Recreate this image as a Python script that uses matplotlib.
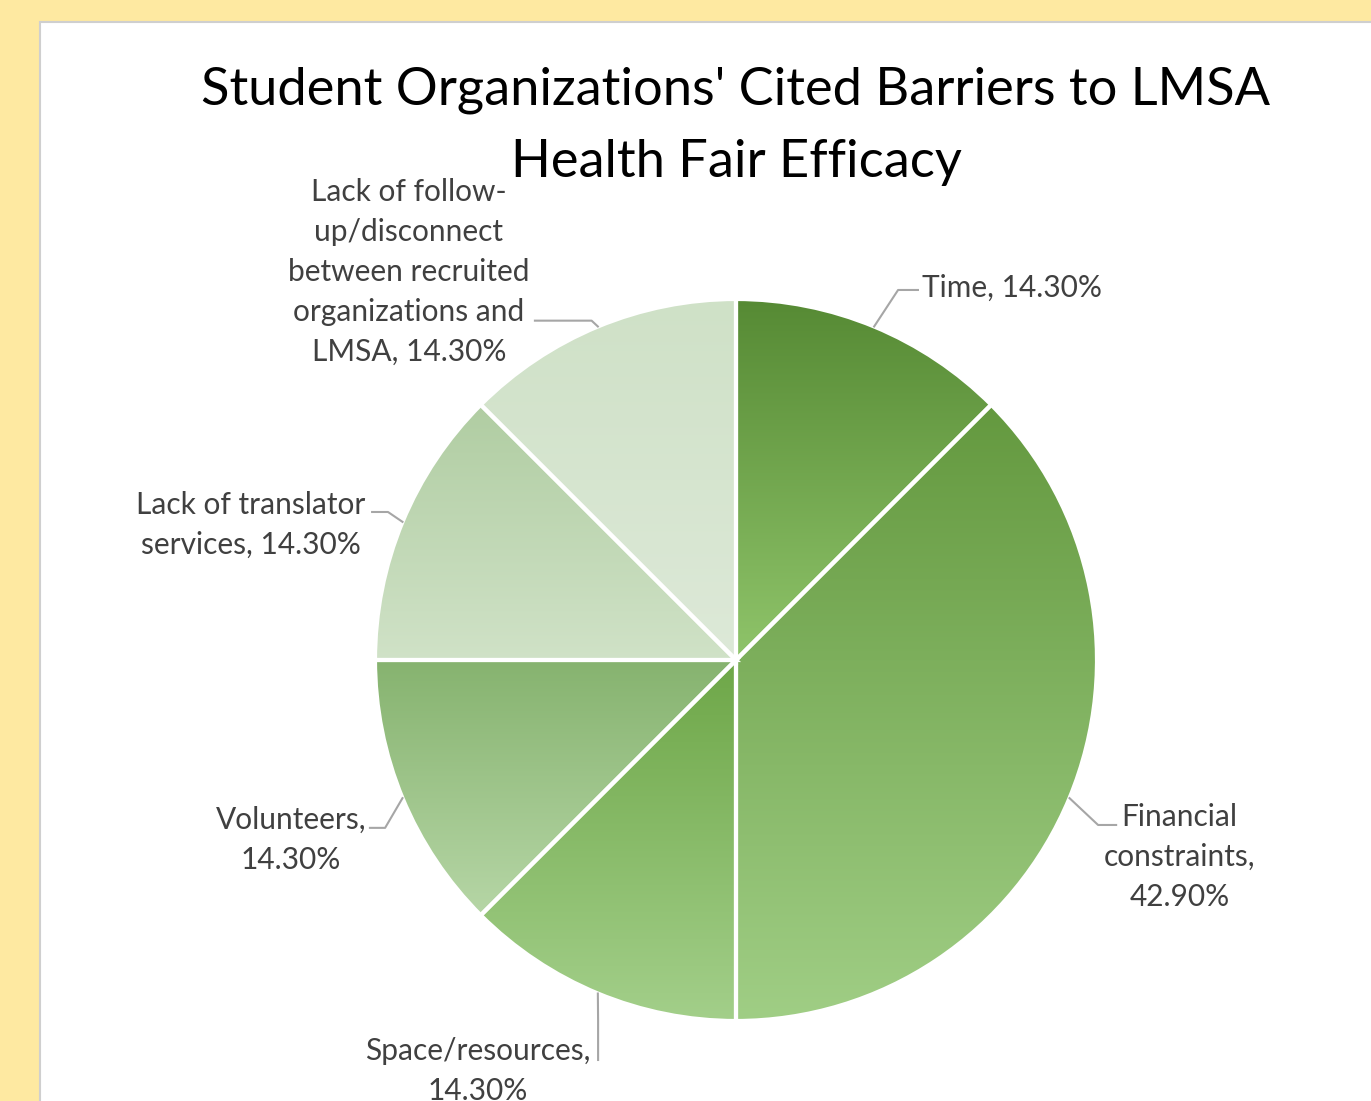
import numpy as np
import matplotlib
matplotlib.use("Agg")
import matplotlib.pyplot as plt
from matplotlib.patches import Rectangle
from matplotlib.colors import to_rgb

# ---- data ----
categories = ["Time", "Financial constraints", "Space/resources", "Volunteers",
              "Lack of translator services",
              "Lack of follow-up/disconnect between recruited organizations and LMSA"]
values = [14.30, 42.90, 14.30, 14.30, 14.30, 14.30]
label_texts = [
    "Time, 14.30%",
    "Financial\nconstraints,\n42.90%",
    "Space/resources,\n14.30%",
    "Volunteers,\n14.30%",
    "Lack of translator\nservices, 14.30%",
    "Lack of follow-\nup/disconnect\nbetween recruited\norganizations and\nLMSA, 14.30%",
]
title = "Student Organizations' Cited Barriers to LMSA\nHealth Fair Efficacy"

# ---- style ----
grad_colors = [  # (top, bottom)
    ("#568a34", "#8fc46a"),
    ("#64993f", "#a0ce85"),
    ("#6ea748", "#a3cf8a"),
    ("#86b36f", "#b6d6a6"),
    ("#b0cda2", "#d0e2c7"),
    ("#cfe1c7", "#dde9d8"),
]
# label layout: (elbow, end of leader, text position, ha) in pie-radius units
label_layout = [
    ((0.449, 1.025), (0.504, 1.025), (0.515, 1.03), "left"),
    ((1.003, -0.457), (1.053, -0.457), (1.229, -0.546), "center"),
    ((-0.382, -1.00), (-0.382, -1.108), (-0.715, -1.139), "center"),
    ((-0.972, -0.465), (-1.014, -0.465), (-1.233, -0.499), "center"),
    ((-0.964, 0.41), (-1.008, 0.41), (-1.343, 0.374), "center"),
    ((-0.40, 0.94), (-0.557, 0.94), (-0.906, 1.075), "center"),
]
FONT = "Lato"
TXT = "#404040"

W, H = 1371, 1101
fig = plt.figure(figsize=(W / 100, H / 100), dpi=100)
fig.patch.set_facecolor("#fee9a1")
panel = Rectangle((40 / W, -0.01), 1.0, (H - 22) / H + 0.01, transform=fig.transFigure,
                  facecolor="white", edgecolor="#cfcfcf", linewidth=1.5, zorder=-5)
fig.patches.append(panel)

cx, cy, R = 736, 660, 361
S = 2.2 * R
ax = fig.add_axes([(cx - S / 2) / W, (H - cy - S / 2) / H, S / W, S / H])
ax.set_facecolor("none")
ax.set_zorder(1)

wedges, _ = ax.pie(values, startangle=90, counterclock=False, radius=1.0,
                   wedgeprops=dict(edgecolor="white", linewidth=3))

for w, (ctop, cbot) in zip(wedges, grad_colors):
    ext = w.get_path().get_extents()
    n = 256
    t = np.linspace(0, 1, n)[:, None]
    top = np.array(to_rgb(ctop))
    bot = np.array(to_rgb(cbot))
    img = (bot[None, :] * (1 - t) + top[None, :] * t)[:, None, :]
    im = ax.imshow(img, extent=[ext.x0, ext.x1, ext.y0, ext.y1], origin="lower",
                   aspect="auto", zorder=1, interpolation="bilinear")
    im.set_clip_path(w)
    w.set_facecolor("none")
    w.set_zorder(3)

for w, txt, (elbow, end, tpos, ha) in zip(wedges, label_texts, label_layout):
    mid = np.deg2rad((w.theta1 + w.theta2) / 2)
    sx, sy = np.cos(mid) * w.r, np.sin(mid) * w.r
    ax.plot([sx, elbow[0], end[0]], [sy, elbow[1], end[1]], color="#a6a6a6",
            lw=1.5, clip_on=False, zorder=4)
    ax.text(tpos[0], tpos[1], txt, ha=ha, va="center", multialignment="center",
            fontsize=21.5, family=FONT, color=TXT, linespacing=1.52, clip_on=False)

ax.set_xlim(-1.1, 1.1)
ax.set_ylim(-1.1, 1.1)
ax.set_aspect("equal")
ax.axis("off")

fig.text(736 / W, (H - 126) / H, title, ha="center", va="center", fontsize=37.7,
         family=FONT, color="black", linespacing=1.65)

fig.savefig("out.png", dpi=100, facecolor=fig.get_facecolor())
